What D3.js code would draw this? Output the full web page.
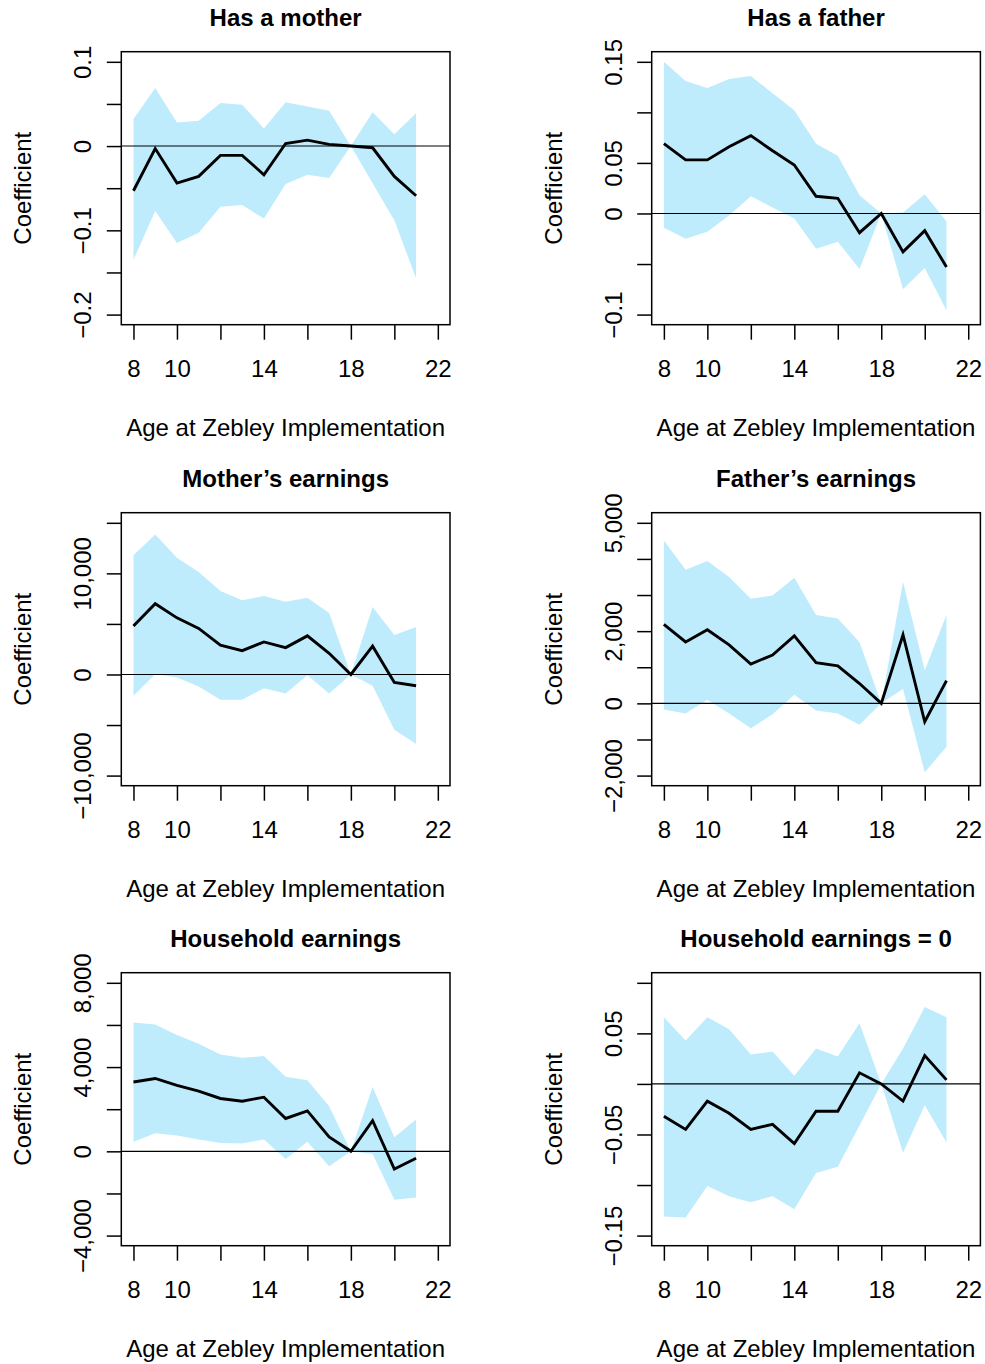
<!DOCTYPE html>
<html>
<head>
<meta charset="utf-8">
<script src="https://cdn.jsdelivr.net/npm/d3@7"></script>
<style>
  body { margin: 0; background: #fff; }
  svg { display: block; }
  text { font-family: "Liberation Sans", Arial, Helvetica, sans-serif; fill: #000; }
</style>
</head>
<body>
<svg id="chart" width="985" height="1364"></svg>
<script>
// Event-study coefficients by age at Zebley implementation (age 18 = reference)
const ages = [8, 9, 10, 11, 12, 13, 14, 15, 16, 17, 18, 19, 20, 21];
const xTickValues = [8, 10, 12, 14, 16, 18, 20, 22];
const xTickLabels = [8, 10, 14, 18, 22];
const xTitle = "Age at Zebley Implementation";
const yTitle = "Coefficient";

// Has a mother
const motherEst = [-0.053, -0.003, -0.044, -0.036, -0.011, -0.011, -0.034, 0.003, 0.007, 0.002, 0, -0.002, -0.036, -0.059];
const motherHi  = [0.032, 0.069, 0.028, 0.030, 0.051, 0.049, 0.021, 0.052, 0.047, 0.042, 0, 0.040, 0.014, 0.039];
const motherLo  = [-0.135, -0.077, -0.115, -0.103, -0.072, -0.070, -0.086, -0.045, -0.034, -0.038, 0, -0.044, -0.088, -0.157];
const motherTicks = [-0.2, -0.15, -0.1, -0.05, 0, 0.05, 0.1];
const motherLabels = [0.1, 0, -0.1, -0.2];

// Has a father
const fatherEst = [0.069, 0.053, 0.053, 0.066, 0.077, 0.062, 0.048, 0.017, 0.015, -0.019, 0, -0.038, -0.017, -0.053];
const fatherHi  = [0.150, 0.131, 0.124, 0.133, 0.136, 0.119, 0.102, 0.069, 0.057, 0.018, 0, 0.001, 0.019, -0.008];
const fatherLo  = [-0.014, -0.025, -0.018, -0.002, 0.017, 0.006, -0.005, -0.035, -0.028, -0.055, 0, -0.075, -0.054, -0.096];
const fatherTicks = [-0.1, -0.05, 0, 0.05, 0.1, 0.15];
const fatherLabels = [0.15, 0.05, 0, -0.1];

// Mother's earnings
const momEarnEst = [4800, 7000, 5600, 4550, 2900, 2350, 3220, 2660, 3820, 2100, 0, 2800, -790, -1120];
const momEarnHi  = [11800, 13850, 11550, 10130, 8260, 7340, 7760, 7200, 7600, 6090, 0, 6680, 3910, 4700];
const momEarnLo  = [-2100, 30, -300, -1180, -2500, -2500, -1350, -1880, -70, -1880, 0, -1120, -5460, -6880];
const momEarnTicks = [-10000, -5000, 0, 5000, 10000, 15000];
const momEarnLabels = [10000, 0, -10000];

// Father's earnings
const dadEarnEst = [2190, 1700, 2040, 1620, 1090, 1340, 1870, 1130, 1040, 550, 0, 1900, -510, 630];
const dadEarnHi  = [4510, 3700, 3940, 3500, 2900, 2990, 3480, 2450, 2350, 1690, 0, 3370, 920, 2450];
const dadEarnLo  = [-170, -280, 100, -280, -690, -300, 240, -200, -280, -590, 0, 400, -1910, -1200];
const dadEarnTicks = [-2000, -1000, 0, 1000, 2000, 3000, 4000, 5000];
const dadEarnLabels = [5000, 2000, 0, -2000];

// Household earnings
const hhEarnEst = [3290, 3460, 3130, 2860, 2510, 2380, 2570, 1560, 1920, 680, 0, 1460, -840, -330];
const hhEarnHi  = [6110, 6020, 5520, 5110, 4600, 4440, 4520, 3540, 3380, 2140, 0, 3050, 670, 1510];
const hhEarnLo  = [460, 860, 750, 560, 400, 370, 560, -370, 460, -710, 0, -130, -2300, -2190];
const hhEarnTicks = [-4000, -2000, 0, 2000, 4000, 6000, 8000];
const hhEarnLabels = [8000, 4000, 0, -4000];

// Household earnings = 0
const zeroEarnEst = [-0.032, -0.045, -0.017, -0.029, -0.045, -0.040, -0.059, -0.027, -0.027, 0.011, 0, -0.017, 0.028, 0.004];
const zeroEarnHi  = [0.066, 0.043, 0.066, 0.054, 0.029, 0.032, 0.008, 0.035, 0.027, 0.060, 0, 0.035, 0.076, 0.066];
const zeroEarnLo  = [-0.131, -0.132, -0.101, -0.111, -0.117, -0.111, -0.124, -0.088, -0.082, -0.041, 0, -0.068, -0.021, -0.058];
const zeroEarnTicks = [-0.15, -0.1, -0.05, 0, 0.05, 0.1];
const zeroEarnLabels = [0.05, -0.05, -0.15];

const panels = [
  { title: "Has a mother", est: motherEst, lo: motherLo, hi: motherHi, ticks: motherTicks, labels: motherLabels, ylim: [-0.2, 0.1], fmt: "dec" },
  { title: "Has a father", est: fatherEst, lo: fatherLo, hi: fatherHi, ticks: fatherTicks, labels: fatherLabels, ylim: [-0.1, 0.15], fmt: "dec" },
  { title: "Mother\u2019s earnings", est: momEarnEst, lo: momEarnLo, hi: momEarnHi, ticks: momEarnTicks, labels: momEarnLabels, ylim: [-10000, 15000], fmt: "int" },
  { title: "Father\u2019s earnings", est: dadEarnEst, lo: dadEarnLo, hi: dadEarnHi, ticks: dadEarnTicks, labels: dadEarnLabels, ylim: [-2000, 5000], fmt: "int" },
  { title: "Household earnings", est: hhEarnEst, lo: hhEarnLo, hi: hhEarnHi, ticks: hhEarnTicks, labels: hhEarnLabels, ylim: [-4000, 8000], fmt: "int" },
  { title: "Household earnings = 0", est: zeroEarnEst, lo: zeroEarnLo, hi: zeroEarnHi, ticks: zeroEarnTicks, labels: zeroEarnLabels, ylim: [-0.15, 0.1], fmt: "dec" }
];

// Grid geometry
const colLeft = [121.3, 651.7];
const rowTop = [51.7, 512.7, 972.7];
const boxW = 328.7;
const boxH = 273;
const fontSize = 24;
const bandColor = "#bfecfd";

const minus = s => s.replace(/-/g, "\u2212");
const fmtDec = v => minus(String(+v.toFixed(2)));
const fmtInt = v => minus(d3.format(",")(v));

// Extend a range by 4% on each side, as base-graphics plots do
const pad = ([a, b]) => { const d = (b - a) * 0.04; return [a - d, b + d]; };

const svg = d3.select("#chart");

panels.forEach((p, i) => {
  const left = colLeft[i % 2];
  const top = rowTop[Math.floor(i / 2)];
  const g = svg.append("g").attr("transform", `translate(${left},${top})`);

  const x = d3.scaleLinear().domain(pad([8, 22])).range([0, boxW]);
  const y = d3.scaleLinear().domain(pad(p.ylim)).range([boxH, 0]);
  const fmt = p.fmt === "dec" ? fmtDec : fmtInt;

  // confidence band
  const rows = ages.map((a, k) => ({ a, est: p.est[k], lo: p.lo[k], hi: p.hi[k] }));
  g.append("path")
    .datum(rows)
    .attr("d", d3.area().x(d => x(d.a)).y0(d => y(d.lo)).y1(d => y(d.hi)))
    .attr("fill", bandColor)
    .attr("stroke", "none");

  // reference line at zero
  g.append("line")
    .attr("x1", 0).attr("x2", boxW)
    .attr("y1", y(0)).attr("y2", y(0))
    .attr("stroke", "#000").attr("stroke-width", 1.1);

  // point estimates
  g.append("path")
    .datum(rows)
    .attr("d", d3.line().x(d => x(d.a)).y(d => y(d.est)))
    .attr("fill", "none")
    .attr("stroke", "#000")
    .attr("stroke-width", 2.9)
    .attr("stroke-linejoin", "miter");

  // frame
  g.append("rect")
    .attr("x", 0).attr("y", 0).attr("width", boxW).attr("height", boxH)
    .attr("fill", "none").attr("stroke", "#000").attr("stroke-width", 1.5);

  // x axis
  const xAxis = g.append("g")
    .attr("transform", `translate(0,${boxH})`)
    .call(d3.axisBottom(x).tickValues(xTickValues).tickSize(15).tickSizeOuter(0)
      .tickFormat(v => xTickLabels.includes(v) ? String(v) : ""));
  xAxis.select(".domain").remove();
  xAxis.selectAll(".tick line").attr("stroke", "#000").attr("stroke-width", 1.5);
  xAxis.selectAll(".tick text")
    .attr("y", 52.5).attr("dy", 0)
    .style("font-size", fontSize + "px")
    .attr("fill", "#000");

  // y axis with labels rotated along the axis
  const yAxis = g.append("g")
    .call(d3.axisLeft(y).tickValues(p.ticks).tickSize(14.5).tickSizeOuter(0)
      .tickFormat(v => p.labels.some(l => Math.abs(l - v) < 1e-9) ? fmt(v) : ""));
  yAxis.select(".domain").remove();
  yAxis.selectAll(".tick line").attr("stroke", "#000").attr("stroke-width", 1.5);
  yAxis.selectAll(".tick text")
    .attr("transform", "rotate(-90)")
    .attr("x", 0).attr("y", -30).attr("dy", 0)
    .attr("text-anchor", "middle")
    .style("font-size", fontSize + "px")
    .attr("fill", "#000");

  // titles
  g.append("text")
    .attr("x", boxW / 2).attr("y", -25.7)
    .attr("text-anchor", "middle")
    .style("font-size", fontSize + "px")
    .style("font-weight", "bold")
    .text(p.title);

  g.append("text")
    .attr("x", boxW / 2).attr("y", boxH + 111.5)
    .attr("text-anchor", "middle")
    .style("font-size", fontSize + "px")
    .text(xTitle);

  g.append("text")
    .attr("transform", `translate(-90,${boxH / 2}) rotate(-90)`)
    .attr("text-anchor", "middle")
    .style("font-size", fontSize + "px")
    .text(yTitle);
});
</script>
</body>
</html>
